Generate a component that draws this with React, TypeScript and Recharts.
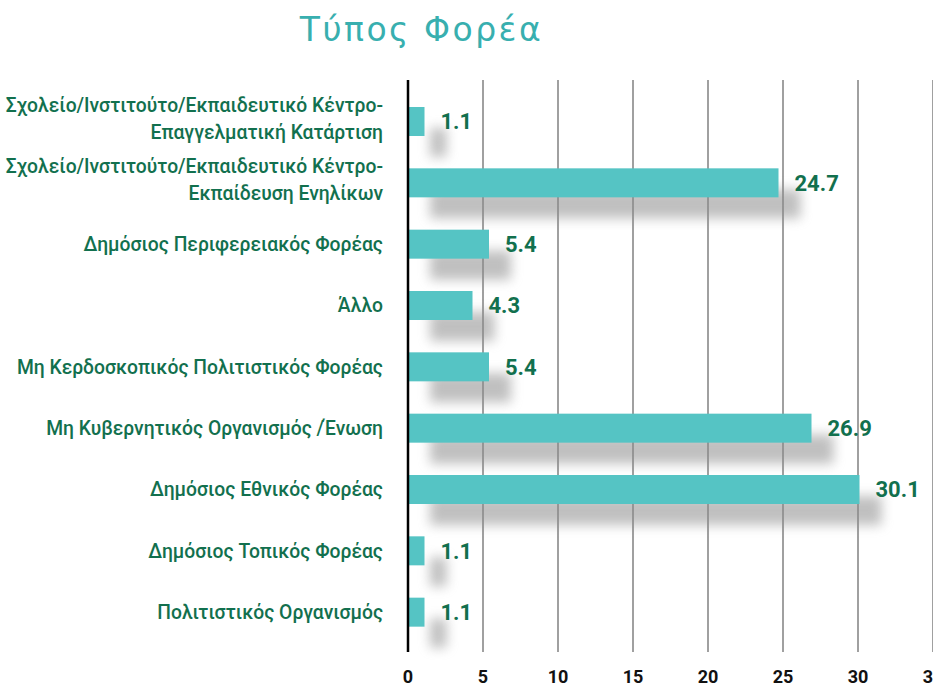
import React from 'react';
import { BarChart, Bar, XAxis, YAxis, CartesianGrid, LabelList } from 'recharts';

const categories = [
  'Σχολείο/Ινστιτούτο/Εκπαιδευτικό Κέντρο-\nΕπαγγελματική Κατάρτιση',
  'Σχολείο/Ινστιτούτο/Εκπαιδευτικό Κέντρο-\nΕκπαίδευση Ενηλίκων',
  'Δημόσιος Περιφερειακός Φορέας',
  'Άλλο',
  'Μη Κερδοσκοπικός Πολιτιστικός Φορέας',
  'Μη Κυβερνητικός Οργανισμός /Ένωση',
  'Δημόσιος Εθνικός Φορέας',
  'Δημόσιος Τοπικός Φορέας',
  'Πολιτιστικός Οργανισμός',
];
const values = [1.1, 24.7, 5.4, 4.3, 5.4, 26.9, 30.1, 1.1, 1.1];
const xTicks = [0, 5, 10, 15, 20, 25, 30, 35];

const data = categories.map((name, i) => ({ name, value: values[i] }));

const BAR_COLOR = '#55C4C4';
const TEXT_GREEN = '#12704E';
const FONT = 'Roboto, "DejaVu Sans", sans-serif';

// bar with a soft grey drop shadow down and to the right
const ShadowBar = (props: any) => {
  const { x, y, width, height } = props;
  return (
    <g>
      <rect
        x={x + 22}
        y={y + 21}
        width={width}
        height={height}
        fill="#8c8c8c"
        opacity={0.55}
        filter="url(#barShadow)"
      />
      <rect x={x} y={y} width={width} height={height} fill={BAR_COLOR} />
    </g>
  );
};

const CategoryTick = (props: any) => {
  const { x, y, payload } = props;
  const lines = String(payload.value).split('\n');
  const lh = 27;
  const start = y - ((lines.length - 1) * lh) / 2 - (lines.length > 1 ? 3 : 0);
  return (
    <text
      x={x - 17}
      y={start}
      textAnchor="end"
      fill={TEXT_GREEN}
      fontFamily={FONT}
      fontWeight={500}
      fontSize={19.3}
    >
      {lines.map((l, i) => (
        <tspan key={i} x={x - 17} y={start + i * lh} dy="0.35em">
          {l}
        </tspan>
      ))}
    </text>
  );
};

export default function App() {
  return (
    <div
      style={{
        position: 'absolute',
        left: 0,
        top: 0,
        width: 933,
        height: 687,
        background: '#fff',
        overflow: 'hidden',
      }}
    >
      <svg width={0} height={0} style={{ position: 'absolute' }}>
        <defs>
          <filter
            id="barShadow"
            filterUnits="userSpaceOnUse"
            x={-100}
            y={-100}
            width={1200}
            height={900}
          >
            <feGaussianBlur stdDeviation={6} />
          </filter>
        </defs>
      </svg>
      <div
        style={{
          position: 'absolute',
          left: 0,
          top: 10,
          width: 843,
          textAlign: 'center',
          fontFamily: '"DejaVu Sans", sans-serif',
          fontSize: 33,
          letterSpacing: 2.5,
          color: '#38AFAF',
        }}
      >
        Τύπος Φορέα
      </div>
      <BarChart
        width={933}
        height={687}
        data={data}
        layout="vertical"
        margin={{ top: 80, right: 0, bottom: 5, left: 0 }}
        barSize={29}
      >
        <CartesianGrid horizontal={false} stroke="#808080" strokeWidth={1.5} />
        <XAxis
          type="number"
          domain={[0, 35]}
          ticks={xTicks}
          axisLine={false}
          tickLine={false}
          tickMargin={12}
          interval={0}
          tick={{ fill: '#111', fontFamily: FONT, fontWeight: 700, fontSize: 18 }}
        />
        <YAxis
          type="category"
          dataKey="name"
          width={408}
          padding={{ top: 11, bottom: 9 }}
          axisLine={{ stroke: '#000', strokeWidth: 2.5 }}
          tickLine={false}
          interval={0}
          tick={<CategoryTick />}
        />
        <Bar dataKey="value" shape={<ShadowBar />} isAnimationActive={false}>
          <LabelList
            dataKey="value"
            position="right"
            offset={16}
            fill={TEXT_GREEN}
            fontFamily={FONT}
            fontWeight={700}
            fontSize={22}
          />
        </Bar>
      </BarChart>
    </div>
  );
}
